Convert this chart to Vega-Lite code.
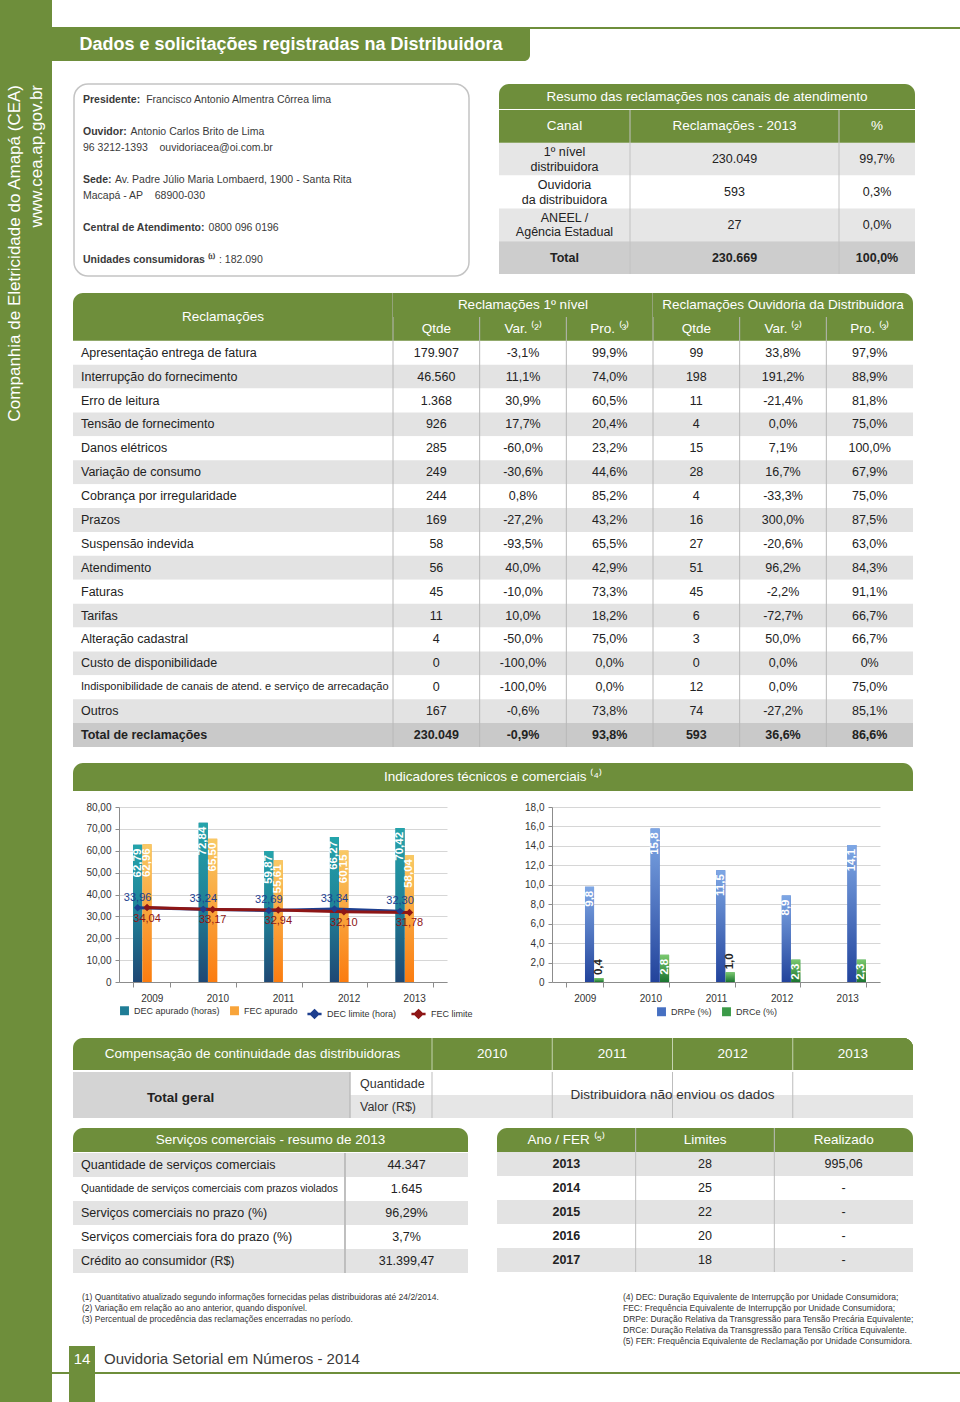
{
"$schema":"https://vega.github.io/schema/vega-lite/v6.json",
"padding":0,
"spacing":0,
"background":"#ffffff",
"config":{
 "view":{"stroke":null},
 "font":"Liberation Sans, Arial, sans-serif",
 "text":{"color":"#222222"},
 "locale":{"number":{"decimal":",","thousands":".","grouping":[3],"currency":["R$",""]}},
 "axis":{"labelFont":"Liberation Sans, Arial, sans-serif","labelFontSize":10,"labelColor":"#333333","labelOverlap":false},
 "legend":{"labelFont":"Liberation Sans, Arial, sans-serif","labelFontSize":9,"labelColor":"#333333"}
},
"datasets":{
 "recl":[
  {"k":"r01","r":"Apresentação entrega de fatura","q1":"179.907","v1":"-3,1%","p1":"99,9%","q2":"99","v2":"33,8%","p2":"97,9%"},
  {"k":"r02","r":"Interrupção do fornecimento","q1":"46.560","v1":"11,1%","p1":"74,0%","q2":"198","v2":"191,2%","p2":"88,9%"},
  {"k":"r03","r":"Erro de leitura","q1":"1.368","v1":"30,9%","p1":"60,5%","q2":"11","v2":"-21,4%","p2":"81,8%"},
  {"k":"r04","r":"Tensão de fornecimento","q1":"926","v1":"17,7%","p1":"20,4%","q2":"4","v2":"0,0%","p2":"75,0%"},
  {"k":"r05","r":"Danos elétricos","q1":"285","v1":"-60,0%","p1":"23,2%","q2":"15","v2":"7,1%","p2":"100,0%"},
  {"k":"r06","r":"Variação de consumo","q1":"249","v1":"-30,6%","p1":"44,6%","q2":"28","v2":"16,7%","p2":"67,9%"},
  {"k":"r07","r":"Cobrança por irregularidade","q1":"244","v1":"0,8%","p1":"85,2%","q2":"4","v2":"-33,3%","p2":"75,0%"},
  {"k":"r08","r":"Prazos","q1":"169","v1":"-27,2%","p1":"43,2%","q2":"16","v2":"300,0%","p2":"87,5%"},
  {"k":"r09","r":"Suspensão indevida","q1":"58","v1":"-93,5%","p1":"65,5%","q2":"27","v2":"-20,6%","p2":"63,0%"},
  {"k":"r10","r":"Atendimento","q1":"56","v1":"40,0%","p1":"42,9%","q2":"51","v2":"96,2%","p2":"84,3%"},
  {"k":"r11","r":"Faturas","q1":"45","v1":"-10,0%","p1":"73,3%","q2":"45","v2":"-2,2%","p2":"91,1%"},
  {"k":"r12","r":"Tarifas","q1":"11","v1":"10,0%","p1":"18,2%","q2":"6","v2":"-72,7%","p2":"66,7%"},
  {"k":"r13","r":"Alteração cadastral","q1":"4","v1":"-50,0%","p1":"75,0%","q2":"3","v2":"50,0%","p2":"66,7%"},
  {"k":"r14","r":"Custo de disponibilidade","q1":"0","v1":"-100,0%","p1":"0,0%","q2":"0","v2":"0,0%","p2":"0%"},
  {"k":"r15","r":"Indisponibilidade de canais de atend. e serviço de arrecadação","q1":"0","v1":"-100,0%","p1":"0,0%","q2":"12","v2":"0,0%","p2":"75,0%"},
  {"k":"r16","r":"Outros","q1":"167","v1":"-0,6%","p1":"73,8%","q2":"74","v2":"-27,2%","p2":"85,1%"},
  {"k":"r17","r":"Total de reclamações","q1":"230.049","v1":"-0,9%","p1":"93,8%","q2":"593","v2":"36,6%","p2":"86,6%"}
 ],
 "summary":[
  {"k":"s1","canal":"1º nível\ndistribuidora","rec":"230.049","pct":"99,7%"},
  {"k":"s2","canal":"Ouvidoria\nda distribuidora","rec":"593","pct":"0,3%"},
  {"k":"s3","canal":"ANEEL /\nAgência Estadual","rec":"27","pct":"0,0%"},
  {"k":"s4","canal":"Total","rec":"230.669","pct":"100,0%"}
 ],
 "dec":[
  {"ano":"2009","ind":"DEC","apurado":62.79,"limite":33.96},
  {"ano":"2009","ind":"FEC","apurado":62.96,"limite":34.04},
  {"ano":"2010","ind":"DEC","apurado":72.84,"limite":33.24},
  {"ano":"2010","ind":"FEC","apurado":65.50,"limite":33.17},
  {"ano":"2011","ind":"DEC","apurado":59.87,"limite":32.69},
  {"ano":"2011","ind":"FEC","apurado":55.61,"limite":32.94},
  {"ano":"2012","ind":"DEC","apurado":66.27,"limite":33.34},
  {"ano":"2012","ind":"FEC","apurado":60.15,"limite":32.10},
  {"ano":"2013","ind":"DEC","apurado":70.42,"limite":32.30},
  {"ano":"2013","ind":"FEC","apurado":58.04,"limite":31.78}
 ],
 "drp":[
  {"ano":"2009","ind":"DRPe","v":9.8},{"ano":"2009","ind":"DRCe","v":0.4},
  {"ano":"2010","ind":"DRPe","v":15.8},{"ano":"2010","ind":"DRCe","v":2.8},
  {"ano":"2011","ind":"DRPe","v":11.5},{"ano":"2011","ind":"DRCe","v":1.0},
  {"ano":"2012","ind":"DRPe","v":8.9},{"ano":"2012","ind":"DRCe","v":2.3},
  {"ano":"2013","ind":"DRPe","v":14.1},{"ano":"2013","ind":"DRCe","v":2.3}
 ],
 "serv":[
  {"k":"s1","l":"Quantidade de serviços comerciais","v":"44.347"},
  {"k":"s2","l":"Quantidade de serviços comerciais com prazos violados","v":"1.645"},
  {"k":"s3","l":"Serviços comerciais no prazo (%)","v":"96,29%"},
  {"k":"s4","l":"Serviços comerciais fora do prazo (%)","v":"3,7%"},
  {"k":"s5","l":"Crédito ao consumidor (R$)","v":"31.399,47"}
 ],
 "fer":[
  {"k":"2013","lim":"28","real":"995,06"},
  {"k":"2014","lim":"25","real":"-"},
  {"k":"2015","lim":"22","real":"-"},
  {"k":"2016","lim":"20","real":"-"},
  {"k":"2017","lim":"18","real":"-"}
 ]
},
"hconcat":[
 {"vconcat":[
  {"width":52,"height":85,"data":{"values":[{}]},"mark":{"type":"rect","color":"#6E8E3B"},"encoding":{}},
  {"width":52,"height":1317,"data":{"values":[{}]},"mark":{"type":"rect","color":"#6E8E3B"},"encoding":{},
   "title":{"text":"Companhia de Eletricidade do Amapá (CEA)","subtitle":"www.cea.ap.gov.br","orient":"left","anchor":"end","offset":-46,"font":"Liberation Sans, Arial, sans-serif","subtitleFont":"Liberation Sans, Arial, sans-serif","fontSize":17,"subtitleFontSize":17,"fontWeight":"normal","color":"#ffffff","subtitleColor":"#ffffff","subtitlePadding":5}}
 ],"spacing":0,"bounds":"flush"},
 {"vconcat":[
  {"width":908,"height":27,"data":{"values":[{}]},"mark":{"type":"rect","opacity":0},"encoding":{}},
  {"width":908,"height":2,"data":{"values":[{}]},"mark":{"type":"rect","color":"#6E8E3B"},"encoding":{}},
  {"width":478,"height":32,"data":{"values":[{"t":"Dados e solicitações registradas na Distribuidora"}]},
   "layer":[
    {"mark":{"type":"rect","color":"#6E8E3B","cornerRadiusBottomRight":6},"encoding":{}},
    {"mark":{"type":"text","color":"#ffffff","fontSize":18,"fontWeight":"bold"},"encoding":{"text":{"field":"t"}}}
   ]},
  {"width":908,"height":22,"data":{"values":[{}]},"mark":{"type":"rect","opacity":0},"encoding":{}},
  {"hconcat":[
   {"width":21,"height":192,"data":{"values":[{}]},"mark":{"type":"rect","opacity":0},"encoding":{}},
   {"width":395,"height":192,
    "view":{"fill":"#ffffff","stroke":"#c4c4c4","strokeWidth":1.5,"cornerRadius":14},
    "data":{"values":[
     {"k":"a","b":"Presidente:","v":"Francisco Antonio Almentra Côrrea lima"},
     {"k":"c","b":"Ouvidor:","v":"Antonio Carlos Brito de Lima"},
     {"k":"d","b":"","v":"96 3212-1393\u00a0\u00a0\u00a0\u00a0ouvidoriacea@oi.com.br"},
     {"k":"f","b":"Sede:","v":"Av. Padre Júlio Maria Lombaerd, 1900 - Santa Rita"},
     {"k":"g","b":"","v":"Macapá - AP\u00a0\u00a0\u00a0\u00a068900-030"},
     {"k":"i","b":"Central de Atendimento:","v":"0800 096 0196"},
     {"k":"k","b":"Unidades consumidoras ⁽¹⁾","v":": 182.090"}
    ]},
    "layer":[
     {"mark":{"type":"text","align":"left","dx":9,"fontSize":10.5,"fontWeight":"bold","color":"#3a3a3a"},
      "encoding":{"y":{"field":"k","type":"nominal","scale":{"type":"point","domain":["a","b","c","d","e","f","g","h","i","j","k"],"padding":1},"axis":null},
                  "x":{"datum":0,"type":"quantitative","scale":{"domain":[0,1]},"axis":null},
                  "text":{"field":"b"}}},
     {"mark":{"type":"text","align":"left","dx":{"expr":"datum.b == '' ? 9 : 15 + 5.2 * length(datum.b)"},"fontSize":10.5,"color":"#3a3a3a"},
      "encoding":{"y":{"field":"k","type":"nominal","scale":{"type":"point","domain":["a","b","c","d","e","f","g","h","i","j","k"],"padding":1},"axis":null},
                  "x":{"datum":0,"type":"quantitative","scale":{"domain":[0,1]},"axis":null},
                  "text":{"field":"v"}}}
    ]},
   {"width":29,"height":192,"data":{"values":[{}]},"mark":{"type":"rect","opacity":0},"encoding":{}},
   {"vconcat":[
    {"width":416,"height":25,"data":{"values":[{"t":"Resumo das reclamações nos canais de atendimento"}]},
     "layer":[
      {"mark":{"type":"rect","color":"#6E8E3B","cornerRadiusTopLeft":10,"cornerRadiusTopRight":10},"encoding":{}},
      {"mark":{"type":"text","color":"#ffffff","fontSize":13.5},"encoding":{"text":{"field":"t"}}}
     ]},
    {"hconcat":[
     {"width":131,"height":164,
      "layer":[
       {"data":{"name":"summary"},"mark":{"type":"rect"},"encoding":{"y":{"field":"k","type":"nominal","scale":{"paddingInner":0,"paddingOuter":0},"axis":null},"color":{"condition":[{"test":"datum.k == 's4'","value":"#cdcdcd"},{"test":"datum.k == 's2'","value":"#ffffff"}],"value":"#e6e6e6"}}},
       {"data":{"values":[{"k":"s0","t":"Canal"}]},"mark":{"type":"rect","color":"#6E8E3B"},"encoding":{"y":{"field":"k","type":"nominal","scale":{"paddingInner":0,"paddingOuter":0},"axis":null}}},
       {"data":{"values":[{"k":"s0","t":"Canal"}]},"mark":{"type":"text","color":"#ffffff","fontSize":13.5},"encoding":{"y":{"field":"k","type":"nominal","scale":{"paddingInner":0,"paddingOuter":0},"axis":null},"text":{"field":"t"}}},
       {"data":{"name":"summary"},"transform":[{"filter":"datum.k != 's4'"}],"mark":{"type":"text","fontSize":12.5,"lineBreak":"\n","dy":-7},"encoding":{"y":{"field":"k","type":"nominal","scale":{"paddingInner":0,"paddingOuter":0},"axis":null},"text":{"field":"canal"}}},
       {"data":{"name":"summary"},"transform":[{"filter":"datum.k == 's4'"}],"mark":{"type":"text","fontSize":12.5,"fontWeight":"bold"},"encoding":{"y":{"field":"k","type":"nominal","scale":{"paddingInner":0,"paddingOuter":0},"axis":null},"text":{"field":"canal"}}}
      ]},
     {"width":209,"height":164,
      "layer":[
       {"data":{"name":"summary"},"mark":{"type":"rect"},"encoding":{"y":{"field":"k","type":"nominal","scale":{"paddingInner":0,"paddingOuter":0},"axis":null},"color":{"condition":[{"test":"datum.k == 's4'","value":"#cdcdcd"},{"test":"datum.k == 's2'","value":"#ffffff"}],"value":"#e6e6e6"}}},
       {"data":{"values":[{"k":"s0","t":"Reclamações - 2013"}]},"mark":{"type":"rect","color":"#6E8E3B"},"encoding":{"y":{"field":"k","type":"nominal","scale":{"paddingInner":0,"paddingOuter":0},"axis":null}}},
       {"data":{"values":[{}]},"mark":{"type":"rule","color":"#c2c2c2"},"encoding":{"x":{"datum":0,"type":"quantitative","scale":{"domain":[0,1]},"axis":null}}},
       {"data":{"values":[{"k":"s0","t":"Reclamações - 2013"}]},"mark":{"type":"text","color":"#ffffff","fontSize":13.5},"encoding":{"y":{"field":"k","type":"nominal","scale":{"paddingInner":0,"paddingOuter":0},"axis":null},"text":{"field":"t"}}},
       {"data":{"name":"summary"},"transform":[{"filter":"datum.k != 's4'"}],"mark":{"type":"text","fontSize":12.5},"encoding":{"y":{"field":"k","type":"nominal","scale":{"paddingInner":0,"paddingOuter":0},"axis":null},"text":{"field":"rec"}}},
       {"data":{"name":"summary"},"transform":[{"filter":"datum.k == 's4'"}],"mark":{"type":"text","fontSize":12.5,"fontWeight":"bold"},"encoding":{"y":{"field":"k","type":"nominal","scale":{"paddingInner":0,"paddingOuter":0},"axis":null},"text":{"field":"rec"}}}
      ]},
     {"width":76,"height":164,
      "layer":[
       {"data":{"name":"summary"},"mark":{"type":"rect"},"encoding":{"y":{"field":"k","type":"nominal","scale":{"paddingInner":0,"paddingOuter":0},"axis":null},"color":{"condition":[{"test":"datum.k == 's4'","value":"#cdcdcd"},{"test":"datum.k == 's2'","value":"#ffffff"}],"value":"#e6e6e6"}}},
       {"data":{"values":[{"k":"s0","t":"%"}]},"mark":{"type":"rect","color":"#6E8E3B"},"encoding":{"y":{"field":"k","type":"nominal","scale":{"paddingInner":0,"paddingOuter":0},"axis":null}}},
       {"data":{"values":[{}]},"mark":{"type":"rule","color":"#c2c2c2"},"encoding":{"x":{"datum":0,"type":"quantitative","scale":{"domain":[0,1]},"axis":null}}},
       {"data":{"values":[{"k":"s0","t":"%"}]},"mark":{"type":"text","color":"#ffffff","fontSize":13.5},"encoding":{"y":{"field":"k","type":"nominal","scale":{"paddingInner":0,"paddingOuter":0},"axis":null},"text":{"field":"t"}}},
       {"data":{"name":"summary"},"transform":[{"filter":"datum.k != 's4'"}],"mark":{"type":"text","fontSize":12.5},"encoding":{"y":{"field":"k","type":"nominal","scale":{"paddingInner":0,"paddingOuter":0},"axis":null},"text":{"field":"pct"}}},
       {"data":{"name":"summary"},"transform":[{"filter":"datum.k == 's4'"}],"mark":{"type":"text","fontSize":12.5,"fontWeight":"bold"},"encoding":{"y":{"field":"k","type":"nominal","scale":{"paddingInner":0,"paddingOuter":0},"axis":null},"text":{"field":"pct"}}}
      ]}
    ],"spacing":0,"bounds":"flush"}
   ],"spacing":0}
  ],"spacing":0},
  {"width":908,"height":15,"data":{"values":[{}]},"mark":{"type":"rect","opacity":0},"encoding":{}},
  {"hconcat":[
   {"width":21,"height":454,"data":{"values":[{}]},"mark":{"type":"rect","opacity":0},"encoding":{}},
   {"width":320,"height":454,
    "layer":[
     {"data":{"name":"recl"},"transform":[{"window":[{"op":"row_number","as":"rn"}]}],"mark":{"type":"rect"},"encoding":{"y":{"field":"k","type":"nominal","scale":{"paddingInner":0,"paddingOuter":0},"axis":null},"color":{"condition":[{"test":"datum.k == 'r17'","value":"#c9c9c9"},{"test":"datum.rn % 2 == 0","value":"#e3e3e3"}],"value":"#ffffff"}}},
     {"data":{"values":[{"k":"h2"}]},"mark":{"type":"rect","color":"#6E8E3B"},"encoding":{"y":{"field":"k","type":"nominal","scale":{"paddingInner":0,"paddingOuter":0},"axis":null}}},
     {"data":{"values":[{"k":"h1"}]},"mark":{"type":"rect","color":"#6E8E3B","cornerRadiusTopLeft":10},"encoding":{"y":{"field":"k","type":"nominal","scale":{"paddingInner":0,"paddingOuter":0},"axis":null}}},
     {"data":{"values":[{"k":"h1","t":"Reclamações"}]},"mark":{"type":"text","color":"#ffffff","fontSize":13.5,"dy":12,"dx":-10},"encoding":{"y":{"field":"k","type":"nominal","scale":{"paddingInner":0,"paddingOuter":0},"axis":null},"text":{"field":"t"}}},
     {"data":{"name":"recl"},"transform":[{"filter":"datum.k != 'r17'"}],"mark":{"type":"text","align":"left","dx":8},"encoding":{"y":{"field":"k","type":"nominal","scale":{"paddingInner":0,"paddingOuter":0},"axis":null},"x":{"datum":0,"type":"quantitative","scale":{"domain":[0,1]},"axis":null},"text":{"field":"r"},"size":{"condition":{"test":"length(datum.r) > 40","value":11},"value":12.5}}},
     {"data":{"name":"recl"},"transform":[{"filter":"datum.k == 'r17'"}],"mark":{"type":"text","align":"left","dx":8,"fontSize":12.5,"fontWeight":"bold"},"encoding":{"y":{"field":"k","type":"nominal","scale":{"paddingInner":0,"paddingOuter":0},"axis":null},"x":{"datum":0,"type":"quantitative","scale":{"domain":[0,1]},"axis":null},"text":{"field":"r"}}}
    ]},
   {"width":260,"height":454,
    "layer":[
     {"data":{"name":"recl"},"transform":[{"window":[{"op":"row_number","as":"rn"}]}],"mark":{"type":"rect"},"encoding":{"y":{"field":"k","type":"nominal","scale":{"paddingInner":0,"paddingOuter":0},"axis":null},"color":{"condition":[{"test":"datum.k == 'r17'","value":"#c9c9c9"},{"test":"datum.rn % 2 == 0","value":"#e3e3e3"}],"value":"#ffffff"}}},
     {"data":{"values":[{"k":"h2"}]},"mark":{"type":"rect","color":"#6E8E3B"},"encoding":{"y":{"field":"k","type":"nominal","scale":{"paddingInner":0,"paddingOuter":0},"axis":null}}},
     {"data":{"values":[{"c":"q1"},{"c":"v1"},{"c":"p1"}]},"mark":{"type":"rule","color":"#b8b8b8"},"encoding":{"x":{"field":"c","type":"nominal","bandPosition":0,"scale":{"domain":["q1","v1","p1"],"paddingInner":0,"paddingOuter":0},"axis":null}}},
     {"data":{"values":[{"k":"h1"}]},"mark":{"type":"rect","color":"#6E8E3B"},"encoding":{"y":{"field":"k","type":"nominal","scale":{"paddingInner":0,"paddingOuter":0},"axis":null}}},
     {"data":{"values":[{"k":"h1","t":"Reclamações 1º nível"}]},"mark":{"type":"text","color":"#ffffff","fontSize":13.5},"encoding":{"y":{"field":"k","type":"nominal","scale":{"paddingInner":0,"paddingOuter":0},"axis":null},"text":{"field":"t"}}},
     {"data":{"values":[{"k":"h2","c":"q1","t":"Qtde"},{"k":"h2","c":"v1","t":"Var. ⁽²⁾"},{"k":"h2","c":"p1","t":"Pro. ⁽³⁾"}]},"mark":{"type":"text","color":"#ffffff","fontSize":13.5},"encoding":{"y":{"field":"k","type":"nominal","scale":{"paddingInner":0,"paddingOuter":0},"axis":null},"x":{"field":"c","type":"nominal","scale":{"domain":["q1","v1","p1"],"paddingInner":0,"paddingOuter":0},"axis":null},"text":{"field":"t"}}},
     {"data":{"name":"recl"},"transform":[{"fold":["q1","v1","p1"],"as":["c","val"]},{"filter":"datum.k != 'r17'"}],"mark":{"type":"text","fontSize":12.5},"encoding":{"y":{"field":"k","type":"nominal","scale":{"paddingInner":0,"paddingOuter":0},"axis":null},"x":{"field":"c","type":"nominal","scale":{"domain":["q1","v1","p1"],"paddingInner":0,"paddingOuter":0},"axis":null},"text":{"field":"val"}}},
     {"data":{"name":"recl"},"transform":[{"fold":["q1","v1","p1"],"as":["c","val"]},{"filter":"datum.k == 'r17'"}],"mark":{"type":"text","fontSize":12.5,"fontWeight":"bold"},"encoding":{"y":{"field":"k","type":"nominal","scale":{"paddingInner":0,"paddingOuter":0},"axis":null},"x":{"field":"c","type":"nominal","scale":{"domain":["q1","v1","p1"],"paddingInner":0,"paddingOuter":0},"axis":null},"text":{"field":"val"}}}
    ]},
   {"width":260,"height":454,
    "layer":[
     {"data":{"name":"recl"},"transform":[{"window":[{"op":"row_number","as":"rn"}]}],"mark":{"type":"rect"},"encoding":{"y":{"field":"k","type":"nominal","scale":{"paddingInner":0,"paddingOuter":0},"axis":null},"color":{"condition":[{"test":"datum.k == 'r17'","value":"#c9c9c9"},{"test":"datum.rn % 2 == 0","value":"#e3e3e3"}],"value":"#ffffff"}}},
     {"data":{"values":[{"k":"h2"}]},"mark":{"type":"rect","color":"#6E8E3B"},"encoding":{"y":{"field":"k","type":"nominal","scale":{"paddingInner":0,"paddingOuter":0},"axis":null}}},
     {"data":{"values":[{"c":"q2"},{"c":"v2"},{"c":"p2"}]},"mark":{"type":"rule","color":"#b8b8b8"},"encoding":{"x":{"field":"c","type":"nominal","bandPosition":0,"scale":{"domain":["q2","v2","p2"],"paddingInner":0,"paddingOuter":0},"axis":null}}},
     {"data":{"values":[{"k":"h1"}]},"mark":{"type":"rect","color":"#6E8E3B","cornerRadiusTopRight":10},"encoding":{"y":{"field":"k","type":"nominal","scale":{"paddingInner":0,"paddingOuter":0},"axis":null}}},
     {"data":{"values":[{"k":"h1","t":"Reclamações Ouvidoria da Distribuidora"}]},"mark":{"type":"text","color":"#ffffff","fontSize":13.5},"encoding":{"y":{"field":"k","type":"nominal","scale":{"paddingInner":0,"paddingOuter":0},"axis":null},"text":{"field":"t"}}},
     {"data":{"values":[{"k":"h2","c":"q2","t":"Qtde"},{"k":"h2","c":"v2","t":"Var. ⁽²⁾"},{"k":"h2","c":"p2","t":"Pro. ⁽³⁾"}]},"mark":{"type":"text","color":"#ffffff","fontSize":13.5},"encoding":{"y":{"field":"k","type":"nominal","scale":{"paddingInner":0,"paddingOuter":0},"axis":null},"x":{"field":"c","type":"nominal","scale":{"domain":["q2","v2","p2"],"paddingInner":0,"paddingOuter":0},"axis":null},"text":{"field":"t"}}},
     {"data":{"name":"recl"},"transform":[{"fold":["q2","v2","p2"],"as":["c","val"]},{"filter":"datum.k != 'r17'"}],"mark":{"type":"text","fontSize":12.5},"encoding":{"y":{"field":"k","type":"nominal","scale":{"paddingInner":0,"paddingOuter":0},"axis":null},"x":{"field":"c","type":"nominal","scale":{"domain":["q2","v2","p2"],"paddingInner":0,"paddingOuter":0},"axis":null},"text":{"field":"val"}}},
     {"data":{"name":"recl"},"transform":[{"fold":["q2","v2","p2"],"as":["c","val"]},{"filter":"datum.k == 'r17'"}],"mark":{"type":"text","fontSize":12.5,"fontWeight":"bold"},"encoding":{"y":{"field":"k","type":"nominal","scale":{"paddingInner":0,"paddingOuter":0},"axis":null},"x":{"field":"c","type":"nominal","scale":{"domain":["q2","v2","p2"],"paddingInner":0,"paddingOuter":0},"axis":null},"text":{"field":"val"}}}
    ]}
  ],"spacing":0,"bounds":"flush"},
  {"width":908,"height":15,"data":{"values":[{}]},"mark":{"type":"rect","opacity":0},"encoding":{}},
  {"hconcat":[
   {"width":21,"height":262,"data":{"values":[{}]},"mark":{"type":"rect","opacity":0},"encoding":{}},
   {"vconcat":[
    {"width":840,"height":28,"data":{"values":[{"t":"Indicadores técnicos e comerciais ⁽⁴⁾"}]},
     "layer":[
      {"mark":{"type":"rect","color":"#6E8E3B","cornerRadiusTopLeft":10,"cornerRadiusTopRight":10},"encoding":{}},
      {"mark":{"type":"text","color":"#ffffff","fontSize":13.5},"encoding":{"text":{"field":"t"}}}
     ]},
    {"width":840,"height":11,"data":{"values":[{}]},"mark":{"type":"rect","opacity":0},"encoding":{}},
    {"hconcat":[
     {"width":46,"height":175,"data":{"values":[{}]},"mark":{"type":"rect","opacity":0},"encoding":{}},
     {"width":328,"height":175,"data":{"name":"dec"},
      "encoding":{
       "x":{"field":"ano","type":"nominal","scale":{"paddingInner":0.43,"paddingOuter":0.215},"axis":{"title":null,"labelAngle":0,"tickBand":"extent","labelPadding":6,"domainColor":"#8c8c8c","tickColor":"#8c8c8c","tickSize":5,"grid":false}},
       "xOffset":{"field":"ind","type":"nominal","scale":{"domain":["DEC","FEC"],"paddingInner":0.04}},
       "y":{"field":"apurado","type":"quantitative","scale":{"domain":[0,80],"nice":false},"axis":{"title":null,"values":[0,10,20,30,40,50,60,70,80],"tickCount":9,"labelOverlap":false,"labelExpr":"datum.value == 0 ? '0' : format(datum.value, '.2f')","grid":true,"gridColor":"#d6d6d6","domainColor":"#8c8c8c","tickColor":"#8c8c8c","tickSize":4,"labelPadding":4}}
      },
      "layer":[
       {"mark":{"type":"bar"},"encoding":{
         "color":{"field":"ind","type":"nominal","scale":{"domain":["DEC","FEC"],"range":["#1f7d96","#f8a43a"]},"legend":{"orient":"bottom","direction":"horizontal","title":null,"symbolType":"square","symbolSize":80,"offset":2,"columnPadding":9,"labelExpr":"datum.label == 'DEC' ? 'DEC apurado (horas)' : 'FEC apurado'"}}}},
       {"transform":[{"filter":"datum.ind == 'DEC'"}],"mark":{"type":"bar","color":{"gradient":"linear","x1":0,"y1":0,"x2":0,"y2":1,"stops":[{"offset":0,"color":"#24a4ab"},{"offset":0.5,"color":"#1f8197"},{"offset":1,"color":"#1f4774"}]}},"encoding":{}},
       {"transform":[{"filter":"datum.ind == 'FEC'"}],"mark":{"type":"bar","color":{"gradient":"linear","x1":0,"y1":0,"x2":0,"y2":1,"stops":[{"offset":0,"color":"#f8c965"},{"offset":1,"color":"#fb7c10"}]}},"encoding":{}},
       {"mark":{"type":"text","angle":270,"align":"right","baseline":"middle","dx":-4,"color":"#ffffff","fontWeight":"bold","fontSize":11.5},"encoding":{"text":{"field":"apurado","type":"quantitative","format":".2f"}}},
       {"mark":{"type":"line","strokeWidth":3,"point":{"shape":"diamond","filled":true,"size":55}},"encoding":{"y":{"field":"limite","type":"quantitative","scale":{"domain":[0,80],"nice":false},"axis":{"title":null,"values":[0,10,20,30,40,50,60,70,80],"tickCount":9,"labelOverlap":false,"labelExpr":"datum.value == 0 ? '0' : format(datum.value, '.2f')","grid":true,"gridColor":"#d6d6d6","domainColor":"#8c8c8c","tickColor":"#8c8c8c","tickSize":4,"labelPadding":4}},"color":{"field":"ind","type":"nominal","scale":{"domain":["DEC","FEC"],"range":["#1d3f8f","#8e1616"]},"legend":{"orient":"bottom","direction":"horizontal","title":null,"symbolType":"M-1,0H1M0,-0.5L0.5,0L0,0.5L-0.5,0Z","symbolSize":200,"symbolStrokeWidth":2.5,"offset":2,"columnPadding":9,"labelExpr":"datum.label == 'DEC' ? 'DEC limite (hora)' : 'FEC limite'"}}}},
       {"transform":[{"filter":"datum.ind == 'DEC'"}],"mark":{"type":"text","dy":-10,"color":"#1d3f8f","fontSize":11},"encoding":{"y":{"field":"limite","type":"quantitative","scale":{"domain":[0,80],"nice":false},"axis":{"title":null,"values":[0,10,20,30,40,50,60,70,80],"tickCount":9,"labelOverlap":false,"labelExpr":"datum.value == 0 ? '0' : format(datum.value, '.2f')","grid":true,"gridColor":"#d6d6d6","domainColor":"#8c8c8c","tickColor":"#8c8c8c","tickSize":4,"labelPadding":4}},"text":{"field":"limite","type":"quantitative","format":".2f"}}},
       {"transform":[{"filter":"datum.ind == 'FEC'"}],"mark":{"type":"text","dy":11,"color":"#8e1616","fontSize":11},"encoding":{"y":{"field":"limite","type":"quantitative","scale":{"domain":[0,80],"nice":false},"axis":{"title":null,"values":[0,10,20,30,40,50,60,70,80],"tickCount":9,"labelOverlap":false,"labelExpr":"datum.value == 0 ? '0' : format(datum.value, '.2f')","grid":true,"gridColor":"#d6d6d6","domainColor":"#8c8c8c","tickColor":"#8c8c8c","tickSize":4,"labelPadding":4}},"text":{"field":"limite","type":"quantitative","format":".2f"}}}
      ],
      "resolve":{"scale":{"color":"independent"}}
     },
     {"width":105,"height":175,"data":{"values":[{}]},"mark":{"type":"rect","opacity":0},"encoding":{}},
     {"width":328,"height":175,"data":{"name":"drp"},
      "encoding":{
       "x":{"field":"ano","type":"nominal","scale":{"paddingInner":0.43,"paddingOuter":0.215},"axis":{"title":null,"labelAngle":0,"tickBand":"extent","labelPadding":6,"domainColor":"#8c8c8c","tickColor":"#8c8c8c","tickSize":5,"grid":false}},
       "xOffset":{"field":"ind","type":"nominal","scale":{"domain":["DRPe","DRCe"],"paddingInner":0.04}},
       "y":{"field":"v","type":"quantitative","scale":{"domain":[0,18],"nice":false},"axis":{"title":null,"values":[0,2,4,6,8,10,12,14,16,18],"tickCount":10,"labelOverlap":false,"labelExpr":"datum.value == 0 ? '0' : format(datum.value, '.1f')","grid":true,"gridColor":"#d6d6d6","domainColor":"#8c8c8c","tickColor":"#8c8c8c","tickSize":4,"labelPadding":4}}
      },
      "layer":[
       {"mark":{"type":"bar"},"encoding":{
         "color":{"field":"ind","type":"nominal","scale":{"domain":["DRPe","DRCe"],"range":["#4670c2","#3b9a48"]},"legend":{"orient":"none","legendX":104,"legendY":199,"direction":"horizontal","title":null,"symbolType":"square","symbolSize":80,"columnPadding":9,"labelExpr":"datum.label + ' (%)'"}}}},
       {"transform":[{"filter":"datum.ind == 'DRPe'"}],"mark":{"type":"bar","color":{"gradient":"linear","x1":0,"y1":0,"x2":0,"y2":1,"stops":[{"offset":0,"color":"#7ea7e5"},{"offset":1,"color":"#22439b"}]}},"encoding":{}},
       {"transform":[{"filter":"datum.ind == 'DRCe'"}],"mark":{"type":"bar","color":{"gradient":"linear","x1":0,"y1":0,"x2":0,"y2":1,"stops":[{"offset":0,"color":"#7bc96f"},{"offset":1,"color":"#1a7430"}]}},"encoding":{}},
       {"transform":[{"filter":"datum.v >= 2"}],"mark":{"type":"text","angle":270,"align":"right","baseline":"middle","dx":-4,"color":"#ffffff","fontWeight":"bold","fontSize":11.5},"encoding":{"text":{"field":"v","type":"quantitative","format":".1f"}}},
       {"transform":[{"filter":"datum.v < 2"}],"mark":{"type":"text","angle":270,"align":"left","baseline":"middle","dx":3,"color":"#222222","fontWeight":"bold","fontSize":11.5},"encoding":{"text":{"field":"v","type":"quantitative","format":".1f"}}}
      ]
     }
    ],"spacing":0,"bounds":"flush","resolve":{"scale":{"color":"independent"},"legend":{"color":"independent"}}}
   ],"spacing":0}
  ],"spacing":0},
  {"width":908,"height":12,"data":{"values":[{}]},"mark":{"type":"rect","opacity":0},"encoding":{}},
  {"hconcat":[
   {"width":21,"height":78,"data":{"values":[{}]},"mark":{"type":"rect","opacity":0},"encoding":{}},
   {"vconcat":[
    {"hconcat":[
     {"width":359,"height":32,"data":{"values":[{"t":"Compensação de continuidade das distribuidoras"}]},
      "layer":[
       {"mark":{"type":"rect","color":"#6E8E3B","cornerRadiusTopLeft":10},"encoding":{}},
       {"mark":{"type":"text","color":"#ffffff","fontSize":13.5},"encoding":{"text":{"field":"t"}}}
      ]},
     {"width":481,"height":32,"data":{"values":[{"c":"2010"},{"c":"2011"},{"c":"2012"},{"c":"2013"}]},
      "layer":[
       {"mark":{"type":"rect","color":"#6E8E3B","cornerRadiusTopRight":10},"encoding":{}},
       {"mark":{"type":"rule","color":"#c5d3b0"},"encoding":{"x":{"field":"c","type":"nominal","bandPosition":0,"scale":{"paddingInner":0,"paddingOuter":0},"axis":null}}},
       {"mark":{"type":"text","color":"#ffffff","fontSize":13.5},"encoding":{"x":{"field":"c","type":"nominal","scale":{"paddingInner":0,"paddingOuter":0},"axis":null},"text":{"field":"c"}}}
      ]}
    ],"spacing":0,"bounds":"flush"},
    {"hconcat":[
     {"width":277,"height":46,"data":{"values":[{"t":"Total geral"}]},
      "layer":[
       {"mark":{"type":"rect","color":"#d4d4d4"},"encoding":{}},
       {"mark":{"type":"text","fontSize":13.5,"fontWeight":"bold","dx":-31,"dy":3},"encoding":{"text":{"field":"t"}}}
      ]},
     {"width":82,"height":46,"data":{"values":[{"k":"q","t":"Quantidade"},{"k":"v","t":"Valor (R$)"}]},
      "layer":[
       {"mark":{"type":"rect"},"encoding":{"y":{"field":"k","type":"nominal","scale":{"paddingInner":0,"paddingOuter":0},"axis":null},"color":{"condition":{"test":"datum.k == 'v'","value":"#e6e6e6"},"value":"#ffffff"}}},
       {"mark":{"type":"rule","color":"#bdbdbd"},"encoding":{"x":{"datum":0,"type":"quantitative","scale":{"domain":[0,1]},"axis":null}}},
       {"mark":{"type":"text","align":"left","dx":10,"fontSize":12.5,"color":"#333333"},"encoding":{"y":{"field":"k","type":"nominal","scale":{"paddingInner":0,"paddingOuter":0},"axis":null},"x":{"datum":0,"type":"quantitative","scale":{"domain":[0,1]},"axis":null},"text":{"field":"t"}}}
      ]},
     {"width":481,"height":46,
      "layer":[
       {"data":{"values":[{"k":"q"},{"k":"v"}]},"mark":{"type":"rect"},"encoding":{"y":{"field":"k","type":"nominal","scale":{"paddingInner":0,"paddingOuter":0},"axis":null},"color":{"condition":{"test":"datum.k == 'v'","value":"#e6e6e6"},"value":"#ffffff"}}},
       {"data":{"values":[{"c":"2010"},{"c":"2011"},{"c":"2012"},{"c":"2013"}]},"mark":{"type":"rule","color":"#bdbdbd"},"encoding":{"x":{"field":"c","type":"nominal","bandPosition":0,"scale":{"paddingInner":0,"paddingOuter":0},"axis":null}}},
       {"data":{"values":[{"t":"Distribuidora não enviou os dados"}]},"mark":{"type":"text","fontSize":13.5,"color":"#333333"},"encoding":{"text":{"field":"t"}}}
      ]}
    ],"spacing":0,"bounds":"flush"}
   ],"spacing":0}
  ],"spacing":0},
  {"width":908,"height":8,"data":{"values":[{}]},"mark":{"type":"rect","opacity":0},"encoding":{}},
  {"hconcat":[
   {"width":21,"height":144,"data":{"values":[{}]},"mark":{"type":"rect","opacity":0},"encoding":{}},
   {"vconcat":[
    {"width":395,"height":24,"data":{"values":[{"t":"Serviços comerciais - resumo de 2013"}]},
     "layer":[
      {"mark":{"type":"rect","color":"#6E8E3B","cornerRadiusTopLeft":10,"cornerRadiusTopRight":10},"encoding":{}},
      {"mark":{"type":"text","color":"#ffffff","fontSize":13.5},"encoding":{"text":{"field":"t"}}}
     ]},
    {"hconcat":[
     {"width":272,"height":120,"data":{"name":"serv"},"transform":[{"window":[{"op":"row_number","as":"rn"}]}],
      "layer":[
       {"mark":{"type":"rect"},"encoding":{"y":{"field":"k","type":"nominal","scale":{"paddingInner":0,"paddingOuter":0},"axis":null},"color":{"condition":{"test":"datum.rn % 2 == 1","value":"#e3e3e3"},"value":"#ffffff"}}},
       {"mark":{"type":"text","align":"left","dx":8},"encoding":{"y":{"field":"k","type":"nominal","scale":{"paddingInner":0,"paddingOuter":0},"axis":null},"x":{"datum":0,"type":"quantitative","scale":{"domain":[0,1]},"axis":null},"text":{"field":"l"},"size":{"condition":{"test":"length(datum.l) > 45","value":10.3},"value":12.5}}}
      ]},
     {"width":123,"height":120,"data":{"name":"serv"},"transform":[{"window":[{"op":"row_number","as":"rn"}]}],
      "layer":[
       {"mark":{"type":"rect"},"encoding":{"y":{"field":"k","type":"nominal","scale":{"paddingInner":0,"paddingOuter":0},"axis":null},"color":{"condition":{"test":"datum.rn % 2 == 1","value":"#e3e3e3"},"value":"#ffffff"}}},
       {"mark":{"type":"rule","color":"#bdbdbd"},"encoding":{"x":{"datum":0,"type":"quantitative","scale":{"domain":[0,1]},"axis":null}}},
       {"mark":{"type":"text","fontSize":12.5},"encoding":{"y":{"field":"k","type":"nominal","scale":{"paddingInner":0,"paddingOuter":0},"axis":null},"text":{"field":"v"}}}
      ]}
    ],"spacing":0,"bounds":"flush"}
   ],"spacing":0},
   {"width":29,"height":144,"data":{"values":[{}]},"mark":{"type":"rect","opacity":0},"encoding":{}},
   {"width":416,"height":144,
    "layer":[
     {"data":{"name":"fer"},"transform":[{"window":[{"op":"row_number","as":"rn"}]}],"mark":{"type":"rect"},"encoding":{"y":{"field":"k","type":"nominal","scale":{"paddingInner":0,"paddingOuter":0},"axis":null},"color":{"condition":{"test":"datum.rn % 2 == 1","value":"#e3e3e3"},"value":"#ffffff"}}},
     {"data":{"values":[{"k":"0"}]},"mark":{"type":"rect","color":"#6E8E3B","cornerRadiusTopLeft":10,"cornerRadiusTopRight":10},"encoding":{"y":{"field":"k","type":"nominal","scale":{"paddingInner":0,"paddingOuter":0},"axis":null}}},
     {"data":{"values":[{"c":"lim"},{"c":"real"}]},"mark":{"type":"rule","color":"#bdbdbd"},"encoding":{"x":{"field":"c","type":"nominal","bandPosition":0,"scale":{"domain":["ano","lim","real"],"paddingInner":0,"paddingOuter":0},"axis":null}}},
     {"data":{"values":[{"k":"0","c":"ano","t":"Ano / FER ⁽⁵⁾"},{"k":"0","c":"lim","t":"Limites"},{"k":"0","c":"real","t":"Realizado"}]},"mark":{"type":"text","color":"#ffffff","fontSize":13.5},"encoding":{"y":{"field":"k","type":"nominal","scale":{"paddingInner":0,"paddingOuter":0},"axis":null},"x":{"field":"c","type":"nominal","scale":{"domain":["ano","lim","real"],"paddingInner":0,"paddingOuter":0},"axis":null},"text":{"field":"t"}}},
     {"data":{"name":"fer"},"mark":{"type":"text","fontSize":12.5,"fontWeight":"bold"},"encoding":{"y":{"field":"k","type":"nominal","scale":{"paddingInner":0,"paddingOuter":0},"axis":null},"x":{"datum":"ano","type":"nominal","scale":{"domain":["ano","lim","real"],"paddingInner":0,"paddingOuter":0},"axis":null},"text":{"field":"k"}}},
     {"data":{"name":"fer"},"transform":[{"fold":["lim","real"],"as":["c","val"]}],"mark":{"type":"text","fontSize":12.5},"encoding":{"y":{"field":"k","type":"nominal","scale":{"paddingInner":0,"paddingOuter":0},"axis":null},"x":{"field":"c","type":"nominal","scale":{"domain":["ano","lim","real"],"paddingInner":0,"paddingOuter":0},"axis":null},"text":{"field":"val"}}}
    ]}
  ],"spacing":0},
  {"width":908,"height":17,"data":{"values":[{}]},"mark":{"type":"rect","opacity":0},"encoding":{}},
  {"hconcat":[
   {"width":30,"height":55,"data":{"values":[{}]},"mark":{"type":"rect","opacity":0},"encoding":{}},
   {"width":541,"height":55,"data":{"values":[
     {"k":"1","t":"(1) Quantitativo atualizado segundo informações fornecidas pelas distribuidoras até 24/2/2014."},
     {"k":"2","t":"(2) Variação em relação ao ano anterior, quando disponível."},
     {"k":"3","t":"(3) Percentual de procedência das reclamações encerradas no período."}
    ]},
    "mark":{"type":"text","align":"left","fontSize":8.5,"color":"#333333"},
    "encoding":{"y":{"field":"k","type":"nominal","scale":{"domain":["1","2","3","4","5"]},"axis":null},"x":{"datum":0,"type":"quantitative","scale":{"domain":[0,1]},"axis":null},"text":{"field":"t"}}},
   {"width":330,"height":55,"data":{"values":[
     {"k":"1","t":"(4) DEC: Duração Equivalente de Interrupção por Unidade Consumidora;"},
     {"k":"2","t":"\u00a0\u00a0\u00a0\u00a0\u00a0FEC: Frequência Equivalente de Interrupção por Unidade Consumidora;"},
     {"k":"3","t":"\u00a0\u00a0\u00a0\u00a0\u00a0DRPe: Duração Relativa da Transgressão para Tensão Precária Equivalente;"},
     {"k":"4","t":"\u00a0\u00a0\u00a0\u00a0\u00a0DRCe: Duração Relativa da Transgressão para Tensão Crítica Equivalente."},
     {"k":"5","t":"(5) FER: Frequência Equivalente de Reclamação por Unidade Consumidora."}
    ]},
    "mark":{"type":"text","align":"left","fontSize":8.5,"color":"#333333"},
    "encoding":{"y":{"field":"k","type":"nominal","scale":{"domain":["1","2","3","4","5"]},"axis":null},"x":{"datum":0,"type":"quantitative","scale":{"domain":[0,1]},"axis":null},"text":{"field":"t"}}}
  ],"spacing":0,"bounds":"flush"},
  {"hconcat":[
   {"vconcat":[
    {"width":17,"height":26,"data":{"values":[{}]},"mark":{"type":"rect","opacity":0},"encoding":{}},
    {"width":17,"height":2,"data":{"values":[{}]},"mark":{"type":"rect","color":"#6E8E3B"},"encoding":{}},
    {"width":17,"height":28,"data":{"values":[{}]},"mark":{"type":"rect","opacity":0},"encoding":{}}
   ],"spacing":0,"bounds":"flush"},
   {"vconcat":[
    {"width":26,"height":26,"data":{"values":[{"t":"14"}]},"layer":[{"mark":{"type":"rect","color":"#6E8E3B"},"encoding":{}},{"mark":{"type":"text","color":"#ffffff","fontSize":15},"encoding":{"text":{"field":"t"}}}]},
    {"width":26,"height":30,"data":{"values":[{}]},"mark":{"type":"rect","color":"#6E8E3B"},"encoding":{}}
   ],"spacing":0,"bounds":"flush"},
   {"vconcat":[
    {"width":865,"height":26,"data":{"values":[{"t":"Ouvidoria Setorial em Números - 2014"}]},"mark":{"type":"text","align":"left","dx":9,"fontSize":15,"color":"#3a3a3a"},"encoding":{"x":{"datum":0,"type":"quantitative","scale":{"domain":[0,1]},"axis":null},"text":{"field":"t"}}},
    {"width":865,"height":2,"data":{"values":[{}]},"mark":{"type":"rect","color":"#6E8E3B"},"encoding":{}},
    {"width":865,"height":28,"data":{"values":[{}]},"mark":{"type":"rect","opacity":0},"encoding":{}}
   ],"spacing":0,"bounds":"flush"}
  ],"spacing":0}
 ],"spacing":0}
]
}
